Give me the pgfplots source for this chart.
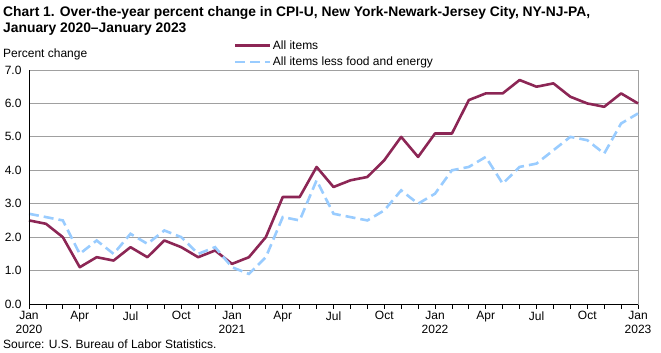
\documentclass[border=0pt]{standalone}
\usepackage{pgfplots}
\pgfplotsset{compat=1.18}
\usepackage{fontspec}
\setmainfont{Liberation Sans}
\definecolor{allitems}{RGB}{140,38,85}
\definecolor{core}{RGB}{153,204,255}
\definecolor{gridc}{RGB}{160,160,160}
\begin{document}
\begin{tikzpicture}[x=1pt,y=1pt]
\useasboundingbox (0,0) rectangle (661,353);
\node[anchor=north west,align=left,inner sep=0pt,font=\fontsize{13.85}{16.5}\selectfont\bfseries] at (3,347)
{Chart 1. Over-the-year percent change in CPI-U, New York-Newark-Jersey City, NY-NJ-PA,\\January 2020--January 2023};
\node[anchor=west,inner sep=0pt,font=\fontsize{12}{14}\selectfont] at (3,298.5) {Percent change};
\node[anchor=west,inner sep=0pt,font=\fontsize{12}{14}\selectfont] at (3,9) {Source: U.S. Bureau of Labor Statistics.};
\begin{axis}[
  at={(29pt,49pt)}, anchor=south west,
  scale only axis, width=609pt, height=234pt,
  xmin=0, xmax=36, ymin=0, ymax=7,
  xtick={0,3,...,36},
  minor xtick={0,1,...,36},
  xticklabels={Jan\\2020,Apr,Jul,Oct,Jan\\2021,Apr,Jul,Oct,Jan\\2022,Apr,Jul,Oct,Jan\\2023},
  xticklabel style={align=center,font=\fontsize{12}{14}\selectfont,yshift=1pt},
  ytick={0,1,...,7},
  yticklabel style={font=\fontsize{12}{14}\selectfont,xshift=1pt},
  /pgf/number format/assume math mode=true,
  yticklabel={\pgfmathprintnumber[fixed,fixed zerofill,precision=1]{\tick}},
  tick pos=left,
  tick align=outside,
  major tick length=5pt, minor tick length=5pt,
  xtick style={black,line width=0.8pt},
  minor tick style={black,line width=0.8pt},
  ytick style={draw=none},
  ymajorgrids, grid style={gridc,line width=0.8pt},
  axis line style={gridc,line width=0.8pt},
  legend style={at={(0.336,1.133)},anchor=north west,draw=none,fill=none,
     font=\fontsize{12}{14}\selectfont,inner sep=0pt,row sep=3pt,
     nodes={inner sep=1.5pt}},
  legend cell align=left,
  legend image code/.code={\draw[#1] (0pt,0pt) -- (35pt,0pt);},
  clip=false,
]
\addplot[allitems,line width=2.6pt,line join=round] coordinates {
(0,2.5)(1,2.4)(2,2.0)(3,1.1)(4,1.4)(5,1.3)(6,1.7)(7,1.4)(8,1.9)(9,1.7)(10,1.4)(11,1.6)
(12,1.2)(13,1.4)(14,2.0)(15,3.2)(16,3.2)(17,4.1)(18,3.5)(19,3.7)(20,3.8)(21,4.3)(22,5.0)(23,4.4)
(24,5.1)(25,5.1)(26,6.1)(27,6.3)(28,6.3)(29,6.7)(30,6.5)(31,6.6)(32,6.2)(33,6.0)(34,5.9)(35,6.3)
(36,6.0)};
\addlegendentry{All items}
\addplot[core,line width=2.6pt,dash pattern=on 10pt off 5pt] coordinates {
(0,2.7)(1,2.6)(2,2.5)(3,1.5)(4,1.9)(5,1.5)(6,2.1)(7,1.8)(8,2.2)(9,2.0)(10,1.5)(11,1.7)
(12,1.1)(13,0.9)(14,1.4)(15,2.6)(16,2.5)(17,3.7)(18,2.7)(19,2.6)(20,2.5)(21,2.8)(22,3.4)(23,3.0)
(24,3.3)(25,4.0)(26,4.1)(27,4.4)(28,3.6)(29,4.1)(30,4.2)(31,4.6)(32,5.0)(33,4.9)(34,4.5)(35,5.4)
(36,5.7)};
\addlegendentry{All items less food and energy}
\draw[black,line width=0.8pt] (rel axis cs:0,0) -- (rel axis cs:0,1);
\draw[black,line width=0.8pt] (rel axis cs:0,0) -- (rel axis cs:1,0);
\end{axis}
\end{tikzpicture}
\end{document}
